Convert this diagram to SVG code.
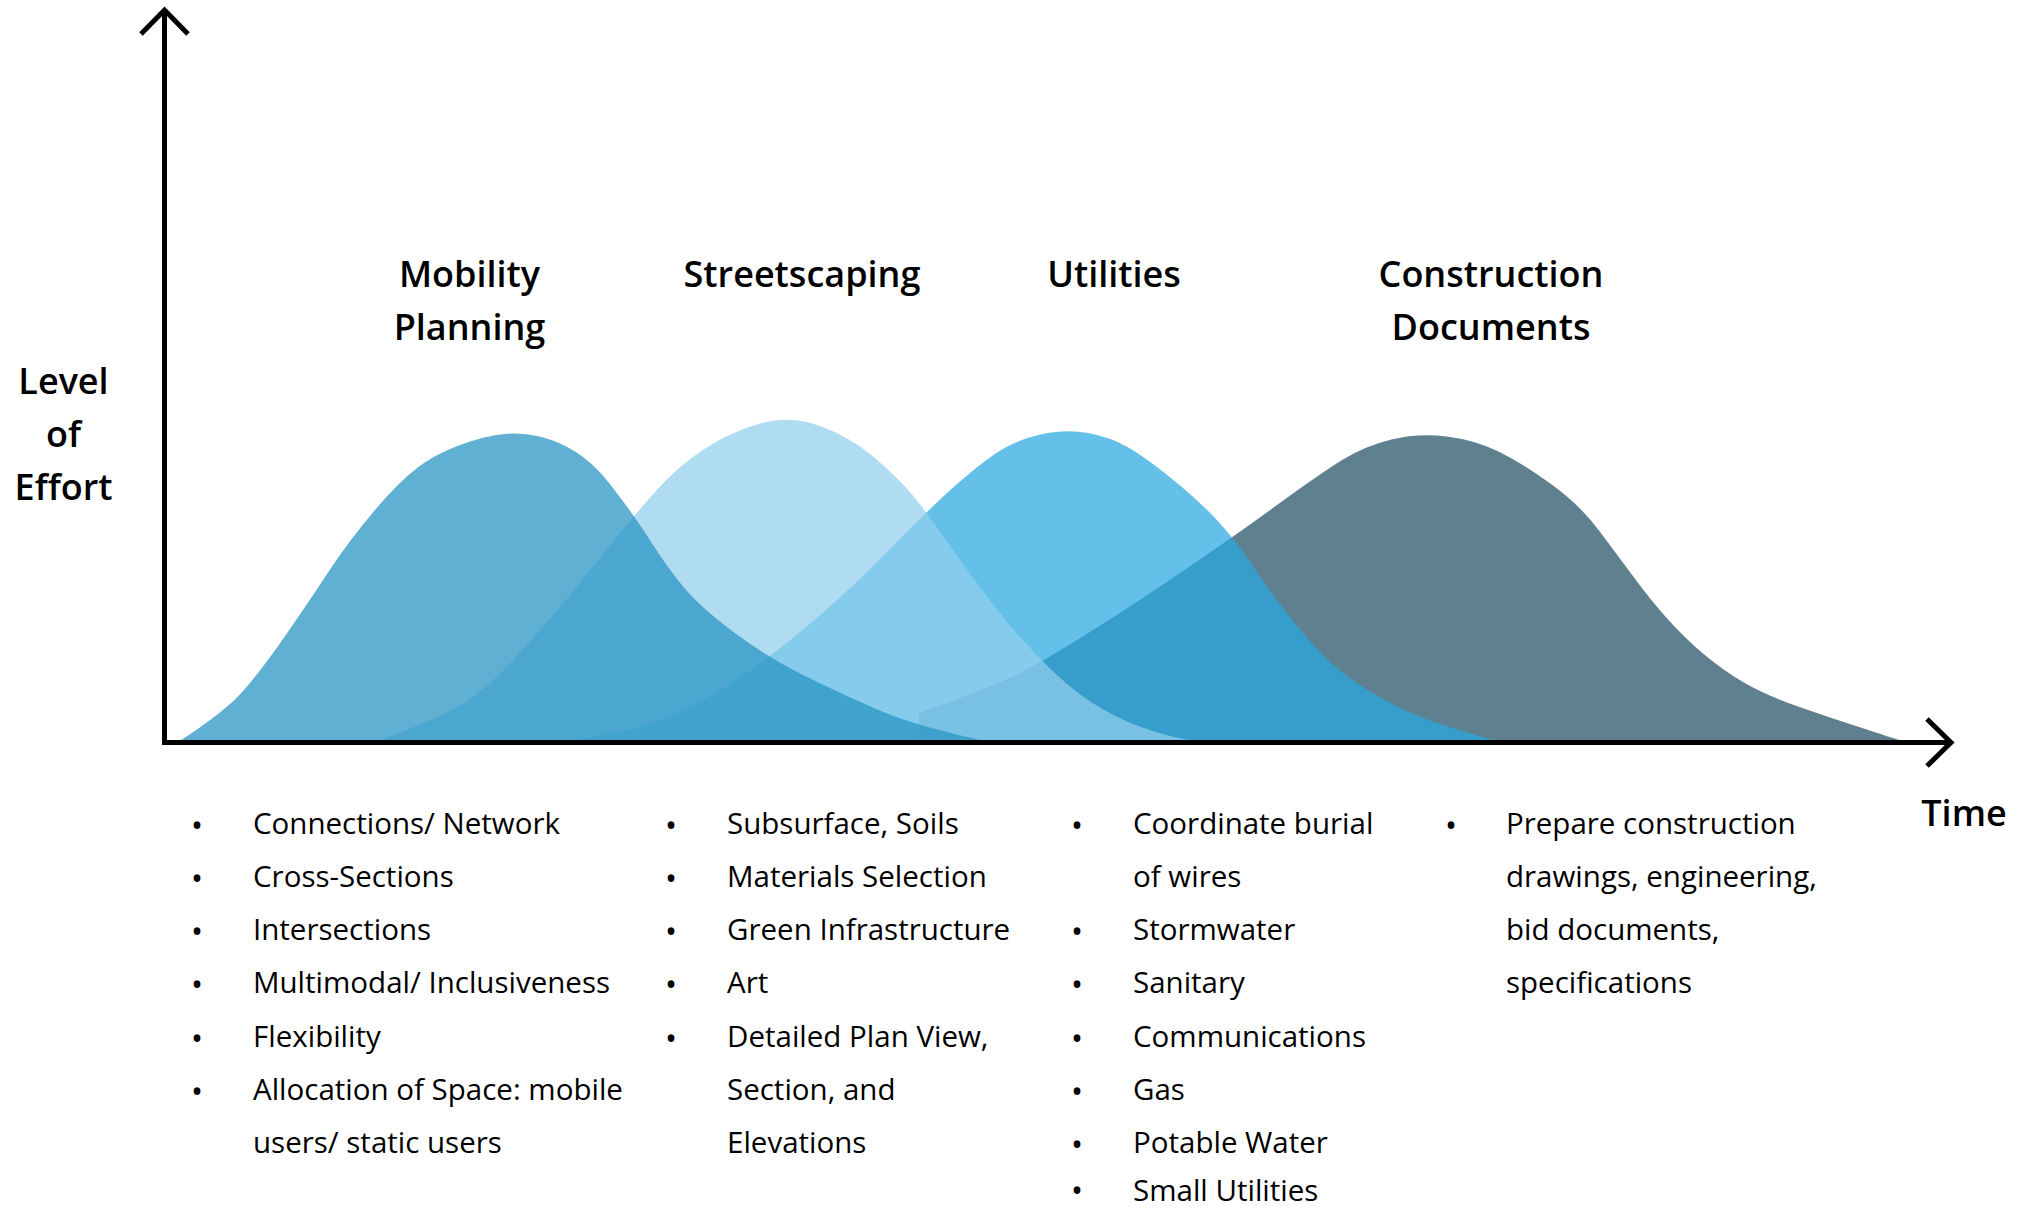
<svg xmlns="http://www.w3.org/2000/svg" width="2031" height="1211" viewBox="0 0 2031 1211">
  <style>
    .title { font-family: "Open Sans", "Liberation Sans", sans-serif; font-weight: 600; font-size: 36px; fill: #000; text-anchor: middle; }
    .item { font-family: "Open Sans", "Liberation Sans", sans-serif; font-size: 29.5px; fill: #000; }
    .bul { font-family: "Open Sans", "Liberation Sans", sans-serif; font-size: 32px; fill: #000; text-anchor: middle; }
    .axis { fill: none; stroke: #000; stroke-width: 5; stroke-linejoin: miter; stroke-linecap: butt; }
  </style>
  <rect width="2031" height="1211" fill="#fff"/>

  <g id="curves">
    <path id="curve-construction" fill="#5e808f" d="M919,742 L919,713 Q1000,684 1022.5,672 Q1045,660 1087.5,633.5 Q1130,607 1181.5,572 Q1233,537 1277,505 Q1321,473 1343,459.5 Q1365,446 1391.5,439.5 Q1418,433 1446.5,436.5 Q1475,440 1498.5,451.5 Q1522,463 1551,484 Q1580,505 1599,530.5 Q1618,556 1637,581.5 Q1656,607 1675,627 Q1694,647 1713.5,662 Q1733,677 1752,687 Q1771,697 1799.5,707 Q1828,717 1860.5,727.5 Q1893,738 1905,742 Z"/>
    <path id="curve-utilities" fill="rgb(40,168,224)" fill-opacity="0.72" d="M560,742 Q620,734 655,722 Q690,710 728.5,685 Q767,660 808.5,625 Q850,590 889,550 Q928,510 952,488.5 Q976,467 995.5,453.5 Q1015,440 1040.5,434.5 Q1066,429 1088,433 Q1110,437 1127.5,447 Q1145,457 1171.5,478.5 Q1198,500 1215.5,518.5 Q1233,537 1250,562 Q1267,587 1284.5,610 Q1302,633 1321,653 Q1340,673 1368.5,690.5 Q1397,708 1423.5,718 Q1450,728 1500,742 Z"/>
    <path id="curve-streetscaping" fill="rgb(145,206,237)" fill-opacity="0.72" d="M375,742 Q430,722 456.5,707.5 Q483,693 516.5,656.5 Q550,620 570,595 Q590,570 611.5,543.5 Q633,517 655,492 Q677,467 703.5,449.5 Q730,432 760,423.5 Q790,415 820,426 Q850,437 872.5,456 Q895,475 909,491 Q923,507 946,540 Q969,573 992,603 Q1015,633 1041.5,660 Q1068,687 1091,702 Q1114,717 1141,727 Q1168,737 1200,742 Z"/>
    <path id="curve-mobility" fill="rgb(42,149,195)" fill-opacity="0.75" d="M178,742 Q225,712 244,690 Q263,668 286.5,634 Q310,600 329,571 Q348,542 375,510 Q402,478 424,463 Q446,448 482,438 Q518,428 551.5,440 Q585,452 609.5,483.5 Q634,515 650.5,541 Q667,567 683.5,587 Q700,607 733.5,632 Q767,657 800,673.5 Q833,690 875,708.5 Q917,727 990,742 Z"/>
  </g>

  <g id="connectors">
    <line class="axis" x1="164.5" y1="10" x2="164.5" y2="745"/>
    <line class="axis" x1="162" y1="742.5" x2="1951" y2="742.5"/>
    <polyline class="axis" points="141,34 164.5,10 188,34"/>
    <polyline class="axis" points="1927,719 1951,742.5 1927,766"/>
  </g>

  <g id="axis-labels">
    <text class="title" x="63.5" y="394">Level</text>
    <text class="title" x="63.5" y="446.5">of</text>
    <text class="title" x="63.5" y="499.5">Effort</text>
    <text class="title" x="1964" y="826">Time</text>
  </g>

  <g id="node-mobility">
    <text class="title" x="469.5" y="286.7">Mobility</text>
    <text class="title" x="469.5" y="340">Planning</text>
    <text class="bul" x="197" y="836.5">•</text><text class="item" x="253" y="833.5">Connections/ Network</text>
    <text class="bul" x="197" y="889.8">•</text><text class="item" x="253" y="886.8">Cross-Sections</text>
    <text class="bul" x="197" y="943.1">•</text><text class="item" x="253" y="940.1">Intersections</text>
    <text class="bul" x="197" y="996.4">•</text><text class="item" x="253" y="993.4">Multimodal/ Inclusiveness</text>
    <text class="bul" x="197" y="1049.7">•</text><text class="item" x="253" y="1046.7">Flexibility</text>
    <text class="bul" x="197" y="1103">•</text><text class="item" x="253" y="1100">Allocation of Space: mobile</text>
    <text class="item" x="253" y="1153.3">users/ static users</text>
  </g>

  <g id="node-streetscaping">
    <text class="title" x="802" y="286.7">Streetscaping</text>
    <text class="bul" x="671" y="836.5">•</text><text class="item" x="727" y="833.5">Subsurface, Soils</text>
    <text class="bul" x="671" y="889.8">•</text><text class="item" x="727" y="886.8">Materials Selection</text>
    <text class="bul" x="671" y="943.1">•</text><text class="item" x="727" y="940.1">Green Infrastructure</text>
    <text class="bul" x="671" y="996.4">•</text><text class="item" x="727" y="993.4">Art</text>
    <text class="bul" x="671" y="1049.7">•</text><text class="item" x="727" y="1046.7">Detailed Plan View,</text>
    <text class="item" x="727" y="1100">Section, and</text>
    <text class="item" x="727" y="1153.3">Elevations</text>
  </g>

  <g id="node-utilities">
    <text class="title" x="1114" y="286.7">Utilities</text>
    <text class="bul" x="1077" y="836.5">•</text><text class="item" x="1133" y="833.5">Coordinate burial</text>
    <text class="item" x="1133" y="886.8">of wires</text>
    <text class="bul" x="1077" y="943.1">•</text><text class="item" x="1133" y="940.1">Stormwater</text>
    <text class="bul" x="1077" y="996.4">•</text><text class="item" x="1133" y="993.4">Sanitary</text>
    <text class="bul" x="1077" y="1049.7">•</text><text class="item" x="1133" y="1046.7">Communications</text>
    <text class="bul" x="1077" y="1103">•</text><text class="item" x="1133" y="1100">Gas</text>
    <text class="bul" x="1077" y="1156.3">•</text><text class="item" x="1133" y="1153.3">Potable Water</text>
    <text class="bul" x="1077" y="1201.5">•</text><text class="item" x="1133" y="1201">Small Utilities</text>
  </g>

  <g id="node-construction">
    <text class="title" x="1491" y="286.7">Construction</text>
    <text class="title" x="1491" y="340">Documents</text>
    <text class="bul" x="1451" y="836.5">•</text><text class="item" x="1506" y="833.5">Prepare construction</text>
    <text class="item" x="1506" y="886.8">drawings, engineering,</text>
    <text class="item" x="1506" y="940.1">bid documents,</text>
    <text class="item" x="1506" y="993.4">specifications</text>
  </g>
</svg>
